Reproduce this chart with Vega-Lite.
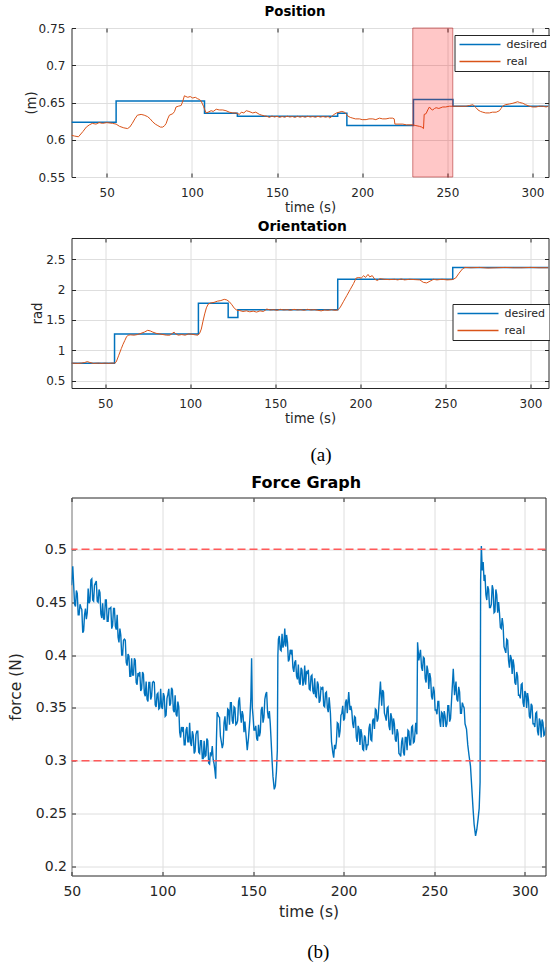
{
  "$schema": "https://vega.github.io/schema/vega-lite/v6.json",
  "background": "white",
  "padding": {"left": 7.5, "top": 4, "right": 0, "bottom": 0},
  "config": {
    "view": {"stroke": "#262626", "strokeWidth": 1},
    "font": "DejaVu Sans",
    "axis": {"domain": false, "gridColor": "#dedede", "gridWidth": 1, "tickColor": "#262626", "tickSize": -4, "labelColor": "#262626", "titleColor": "#262626", "titleFontWeight": "normal", "labelFont": "DejaVu Sans", "titleFont": "DejaVu Sans", "labelFlush": false},
    "title": {"font": "DejaVu Sans", "fontWeight": "bold", "color": "#000000", "frame": "group"},
    "legend": {"title": null, "orient": "none", "direction": "vertical", "fillColor": "white", "strokeColor": "#262626", "padding": 4, "labelFontSize": 11, "labelFont": "DejaVu Sans", "labelColor": "#262626", "symbolType": "M-5.125,0H5.125", "symbolSize": 64, "symbolStrokeWidth": 1.5, "rowPadding": 5, "labelOffset": 21, "symbolOffset": 16, "cornerRadius": 0}
  },
  "datasets": {
    "posDes": [
      {"t": 29.3, "v": 0.6235}, {"t": 55.5, "v": 0.652}, {"t": 107.4, "v": 0.6355}, {"t": 126.7, "v": 0.6315},
      {"t": 185.6, "v": 0.6355}, {"t": 191, "v": 0.619}, {"t": 230.1, "v": 0.654}, {"t": 253.3, "v": 0.645}, {"t": 309.4, "v": 0.645}
    ],
    "posReal": [
      {"t": 29.3, "v": 0.606}, {"t": 31, "v": 0.605}, {"t": 33.4, "v": 0.604}, {"t": 36, "v": 0.611}, {"t": 38, "v": 0.617}, {"t": 39.8, "v": 0.62},
      {"t": 41.5, "v": 0.622}, {"t": 43.7, "v": 0.621}, {"t": 45.5, "v": 0.623}, {"t": 47.5, "v": 0.622}, {"t": 50, "v": 0.623}, {"t": 53.4, "v": 0.622},
      {"t": 55.5, "v": 0.621}, {"t": 57.5, "v": 0.618}, {"t": 60, "v": 0.616}, {"t": 62.2, "v": 0.615}, {"t": 63.5, "v": 0.617}, {"t": 65, "v": 0.622},
      {"t": 66.5, "v": 0.628}, {"t": 68, "v": 0.633}, {"t": 70.2, "v": 0.634}, {"t": 72, "v": 0.633}, {"t": 74, "v": 0.631}, {"t": 75.5, "v": 0.628},
      {"t": 77, "v": 0.624}, {"t": 78.5, "v": 0.621}, {"t": 80, "v": 0.619}, {"t": 81.5, "v": 0.617}, {"t": 82.9, "v": 0.617}, {"t": 84, "v": 0.619},
      {"t": 84.9, "v": 0.622}, {"t": 85.8, "v": 0.628}, {"t": 86.8, "v": 0.633}, {"t": 88.8, "v": 0.635}, {"t": 89.8, "v": 0.638}, {"t": 90.7, "v": 0.644},
      {"t": 92, "v": 0.645}, {"t": 93.7, "v": 0.646}, {"t": 94.7, "v": 0.652}, {"t": 95.6, "v": 0.659}, {"t": 96.5, "v": 0.658}, {"t": 97.6, "v": 0.657},
      {"t": 99, "v": 0.658}, {"t": 100.5, "v": 0.656}, {"t": 102, "v": 0.657}, {"t": 103.4, "v": 0.655}, {"t": 104.5, "v": 0.654}, {"t": 105.4, "v": 0.652},
      {"t": 106.8, "v": 0.645}, {"t": 107.6, "v": 0.64}, {"t": 108.4, "v": 0.636}, {"t": 109.5, "v": 0.637}, {"t": 111.3, "v": 0.639}, {"t": 112.5, "v": 0.638},
      {"t": 114.3, "v": 0.641}, {"t": 116, "v": 0.64}, {"t": 118.1, "v": 0.64}, {"t": 120, "v": 0.639}, {"t": 122, "v": 0.637}, {"t": 124, "v": 0.636},
      {"t": 126, "v": 0.636}, {"t": 127.9, "v": 0.634}, {"t": 129, "v": 0.637}, {"t": 130.5, "v": 0.636}, {"t": 131.9, "v": 0.639}, {"t": 133.5, "v": 0.638},
      {"t": 135.7, "v": 0.636}, {"t": 137.5, "v": 0.637}, {"t": 139.7, "v": 0.634}, {"t": 141, "v": 0.633}, {"t": 142.6, "v": 0.632}, {"t": 144, "v": 0.6315},
      {"t": 145.5, "v": 0.63}, {"t": 147, "v": 0.6318}, {"t": 148.5, "v": 0.6305}, {"t": 150, "v": 0.6315}, {"t": 151.5, "v": 0.63}, {"t": 153, "v": 0.6312},
      {"t": 154.5, "v": 0.6302}, {"t": 156, "v": 0.6316}, {"t": 157.5, "v": 0.6305}, {"t": 159, "v": 0.6312}, {"t": 160.5, "v": 0.63}, {"t": 162, "v": 0.6315},
      {"t": 163.5, "v": 0.6303}, {"t": 165, "v": 0.6313}, {"t": 166.5, "v": 0.6302}, {"t": 168, "v": 0.6315}, {"t": 169.5, "v": 0.6305}, {"t": 171, "v": 0.6312},
      {"t": 172.5, "v": 0.6302}, {"t": 174, "v": 0.6314}, {"t": 175.5, "v": 0.6304}, {"t": 177, "v": 0.6312}, {"t": 178.5, "v": 0.6303}, {"t": 180, "v": 0.6312},
      {"t": 181, "v": 0.6292}, {"t": 182, "v": 0.631}, {"t": 183.5, "v": 0.634}, {"t": 185, "v": 0.636}, {"t": 186.5, "v": 0.637}, {"t": 188, "v": 0.638},
      {"t": 189.5, "v": 0.637}, {"t": 190.5, "v": 0.635}, {"t": 191.5, "v": 0.632}, {"t": 193, "v": 0.63}, {"t": 194.5, "v": 0.629}, {"t": 196, "v": 0.628},
      {"t": 198.4, "v": 0.628}, {"t": 200, "v": 0.627}, {"t": 202.3, "v": 0.627}, {"t": 204, "v": 0.628}, {"t": 206.2, "v": 0.628}, {"t": 208, "v": 0.627},
      {"t": 210.1, "v": 0.629}, {"t": 212, "v": 0.628}, {"t": 214, "v": 0.628}, {"t": 216, "v": 0.629}, {"t": 217.9, "v": 0.629}, {"t": 218.8, "v": 0.628},
      {"t": 219.2, "v": 0.621}, {"t": 221, "v": 0.621}, {"t": 223.8, "v": 0.621}, {"t": 226, "v": 0.62}, {"t": 229.7, "v": 0.62}, {"t": 231.5, "v": 0.619},
      {"t": 233.6, "v": 0.618}, {"t": 235, "v": 0.617}, {"t": 236, "v": 0.615}, {"t": 236.4, "v": 0.634}, {"t": 237.5, "v": 0.635}, {"t": 238.5, "v": 0.64},
      {"t": 239.5, "v": 0.644}, {"t": 240.5, "v": 0.641}, {"t": 241.4, "v": 0.64}, {"t": 242.5, "v": 0.642}, {"t": 243.4, "v": 0.643}, {"t": 245, "v": 0.642},
      {"t": 247.3, "v": 0.644}, {"t": 249, "v": 0.644}, {"t": 251.2, "v": 0.645}, {"t": 253, "v": 0.645}, {"t": 255.2, "v": 0.645}, {"t": 258, "v": 0.645},
      {"t": 261, "v": 0.645}, {"t": 263, "v": 0.646}, {"t": 265, "v": 0.647}, {"t": 266, "v": 0.645}, {"t": 266.9, "v": 0.643}, {"t": 268, "v": 0.64},
      {"t": 269.5, "v": 0.638}, {"t": 270.8, "v": 0.637}, {"t": 272.5, "v": 0.636}, {"t": 274.7, "v": 0.636}, {"t": 276.5, "v": 0.637}, {"t": 278.7, "v": 0.637},
      {"t": 280.6, "v": 0.639}, {"t": 281.5, "v": 0.642}, {"t": 282.5, "v": 0.645}, {"t": 284, "v": 0.647}, {"t": 286.5, "v": 0.648}, {"t": 288.5, "v": 0.649},
      {"t": 291.3, "v": 0.651}, {"t": 292.5, "v": 0.65}, {"t": 294.3, "v": 0.649}, {"t": 296, "v": 0.647}, {"t": 298.2, "v": 0.645}, {"t": 300, "v": 0.644},
      {"t": 302.1, "v": 0.644}, {"t": 304, "v": 0.645}, {"t": 306, "v": 0.645}, {"t": 308, "v": 0.644}, {"t": 309.4, "v": 0.645}
    ],
    "posBand": [{"start": 229.7, "end": 253.2}],
    "oriDes": [
      {"t": 30.2, "v": 0.787}, {"t": 55.5, "v": 1.27}, {"t": 104.8, "v": 1.775}, {"t": 122.3, "v": 1.54},
      {"t": 128, "v": 1.668}, {"t": 186.7, "v": 2.17}, {"t": 254.3, "v": 2.365}, {"t": 310.6, "v": 2.365}
    ],
    "oriReal": [
      {"t": 30.2, "v": 0.79}, {"t": 34, "v": 0.785}, {"t": 36, "v": 0.79}, {"t": 38, "v": 0.8}, {"t": 39.5, "v": 0.815}, {"t": 41, "v": 0.8},
      {"t": 43, "v": 0.785}, {"t": 46, "v": 0.79}, {"t": 48, "v": 0.785}, {"t": 50, "v": 0.79}, {"t": 52, "v": 0.785}, {"t": 54, "v": 0.79},
      {"t": 55.5, "v": 0.79}, {"t": 56.5, "v": 0.81}, {"t": 58, "v": 0.92}, {"t": 59.5, "v": 1.03}, {"t": 60.5, "v": 1.1}, {"t": 61.5, "v": 1.16},
      {"t": 62.5, "v": 1.22}, {"t": 63.5, "v": 1.25}, {"t": 65, "v": 1.255}, {"t": 67, "v": 1.25}, {"t": 69, "v": 1.26}, {"t": 71, "v": 1.28},
      {"t": 73, "v": 1.3}, {"t": 75, "v": 1.33}, {"t": 76.5, "v": 1.32}, {"t": 78, "v": 1.3}, {"t": 80, "v": 1.28}, {"t": 82, "v": 1.27},
      {"t": 84, "v": 1.26}, {"t": 86, "v": 1.25}, {"t": 88, "v": 1.25}, {"t": 89.5, "v": 1.28}, {"t": 90.5, "v": 1.3}, {"t": 91.5, "v": 1.27},
      {"t": 93, "v": 1.25}, {"t": 95, "v": 1.26}, {"t": 97, "v": 1.25}, {"t": 99, "v": 1.27}, {"t": 101, "v": 1.265}, {"t": 103, "v": 1.255},
      {"t": 104.5, "v": 1.25}, {"t": 105.5, "v": 1.28}, {"t": 106.5, "v": 1.35}, {"t": 107.5, "v": 1.48}, {"t": 108.5, "v": 1.6}, {"t": 109.5, "v": 1.7},
      {"t": 110.5, "v": 1.76}, {"t": 112, "v": 1.78}, {"t": 114, "v": 1.79}, {"t": 116, "v": 1.81}, {"t": 118, "v": 1.82}, {"t": 120, "v": 1.84},
      {"t": 121.5, "v": 1.83}, {"t": 123, "v": 1.8}, {"t": 124.5, "v": 1.75}, {"t": 126, "v": 1.69}, {"t": 127.5, "v": 1.66}, {"t": 129, "v": 1.655},
      {"t": 131, "v": 1.64}, {"t": 133, "v": 1.65}, {"t": 135, "v": 1.635}, {"t": 137, "v": 1.645}, {"t": 139, "v": 1.63}, {"t": 141, "v": 1.65},
      {"t": 143, "v": 1.64}, {"t": 145, "v": 1.68}, {"t": 147, "v": 1.665}, {"t": 149, "v": 1.67}, {"t": 151, "v": 1.66}, {"t": 153, "v": 1.675},
      {"t": 155, "v": 1.665}, {"t": 157, "v": 1.67}, {"t": 159, "v": 1.66}, {"t": 161, "v": 1.675}, {"t": 163, "v": 1.665}, {"t": 165, "v": 1.67},
      {"t": 167, "v": 1.66}, {"t": 169, "v": 1.675}, {"t": 171, "v": 1.665}, {"t": 173, "v": 1.67}, {"t": 175, "v": 1.66}, {"t": 177, "v": 1.65},
      {"t": 179, "v": 1.665}, {"t": 181, "v": 1.66}, {"t": 183, "v": 1.67}, {"t": 185, "v": 1.66}, {"t": 186.7, "v": 1.665}, {"t": 188, "v": 1.7},
      {"t": 190, "v": 1.8}, {"t": 192, "v": 1.9}, {"t": 194, "v": 2.0}, {"t": 196, "v": 2.1}, {"t": 197.5, "v": 2.19}, {"t": 199, "v": 2.2},
      {"t": 200.5, "v": 2.19}, {"t": 202, "v": 2.23}, {"t": 203, "v": 2.2}, {"t": 204.5, "v": 2.25}, {"t": 205.5, "v": 2.21}, {"t": 207, "v": 2.23},
      {"t": 208.5, "v": 2.17}, {"t": 210, "v": 2.15}, {"t": 211.5, "v": 2.18}, {"t": 214, "v": 2.17}, {"t": 217, "v": 2.165}, {"t": 220, "v": 2.17},
      {"t": 222, "v": 2.16}, {"t": 224, "v": 2.175}, {"t": 226, "v": 2.16}, {"t": 229, "v": 2.17}, {"t": 232, "v": 2.165}, {"t": 235, "v": 2.16},
      {"t": 237, "v": 2.12}, {"t": 239, "v": 2.11}, {"t": 241, "v": 2.14}, {"t": 243, "v": 2.17}, {"t": 245, "v": 2.16}, {"t": 248, "v": 2.17},
      {"t": 251, "v": 2.16}, {"t": 254, "v": 2.165}, {"t": 256, "v": 2.19}, {"t": 258, "v": 2.27}, {"t": 260, "v": 2.34}, {"t": 261.5, "v": 2.365},
      {"t": 265, "v": 2.36}, {"t": 270, "v": 2.365}, {"t": 275, "v": 2.355}, {"t": 280, "v": 2.36}, {"t": 285, "v": 2.365}, {"t": 290, "v": 2.36},
      {"t": 295, "v": 2.36}, {"t": 300, "v": 2.365}, {"t": 305, "v": 2.36}, {"t": 310.6, "v": 2.36}
    ],
    "thresholds": [{"f": 0.5}, {"f": 0.3}],
    "force": [
      {"t": 49.8, "f": 0.466}, {"t": 50.5, "f": 0.484}, {"t": 51, "f": 0.466}, {"t": 52, "f": 0.446}, {"t": 53, "f": 0.458}, {"t": 54, "f": 0.438},
      {"t": 55, "f": 0.445}, {"t": 56, "f": 0.421}, {"t": 57, "f": 0.438}, {"t": 58, "f": 0.434}, {"t": 59, "f": 0.463}, {"t": 60, "f": 0.451},
      {"t": 61, "f": 0.472}, {"t": 62, "f": 0.451}, {"t": 63, "f": 0.468}, {"t": 64, "f": 0.451}, {"t": 65, "f": 0.462}, {"t": 66, "f": 0.439},
      {"t": 67, "f": 0.449}, {"t": 68, "f": 0.434}, {"t": 69, "f": 0.452}, {"t": 70, "f": 0.432}, {"t": 71, "f": 0.444}, {"t": 72, "f": 0.425},
      {"t": 73, "f": 0.444}, {"t": 74, "f": 0.427}, {"t": 75, "f": 0.438}, {"t": 76, "f": 0.412}, {"t": 77, "f": 0.419}, {"t": 78, "f": 0.4},
      {"t": 79, "f": 0.415}, {"t": 80, "f": 0.393}, {"t": 81, "f": 0.401}, {"t": 82, "f": 0.38}, {"t": 83, "f": 0.397}, {"t": 84, "f": 0.381},
      {"t": 85, "f": 0.395}, {"t": 86, "f": 0.372}, {"t": 87, "f": 0.381}, {"t": 88, "f": 0.366}, {"t": 89, "f": 0.384}, {"t": 90, "f": 0.364},
      {"t": 91, "f": 0.375}, {"t": 92, "f": 0.356}, {"t": 93, "f": 0.374}, {"t": 94, "f": 0.361}, {"t": 95, "f": 0.375}, {"t": 96, "f": 0.353},
      {"t": 97, "f": 0.363}, {"t": 98, "f": 0.349}, {"t": 99, "f": 0.368}, {"t": 100, "f": 0.349}, {"t": 101, "f": 0.361}, {"t": 102, "f": 0.343},
      {"t": 103, "f": 0.363}, {"t": 104, "f": 0.352}, {"t": 105, "f": 0.369}, {"t": 106, "f": 0.348}, {"t": 107, "f": 0.362}, {"t": 108, "f": 0.342},
      {"t": 109, "f": 0.351}, {"t": 110, "f": 0.322}, {"t": 111, "f": 0.329}, {"t": 112, "f": 0.315}, {"t": 113, "f": 0.329}, {"t": 114, "f": 0.318},
      {"t": 115, "f": 0.336}, {"t": 116, "f": 0.314}, {"t": 117, "f": 0.324}, {"t": 118, "f": 0.309}, {"t": 119, "f": 0.328}, {"t": 120, "f": 0.308},
      {"t": 121, "f": 0.319}, {"t": 122, "f": 0.302}, {"t": 123, "f": 0.319}, {"t": 124, "f": 0.305}, {"t": 125, "f": 0.319}, {"t": 126, "f": 0.297},
      {"t": 127, "f": 0.306}, {"t": 128, "f": 0.301}, {"t": 129, "f": 0.29}, {"t": 129.4, "f": 0.283}, {"t": 129.8, "f": 0.32}, {"t": 130.2, "f": 0.346},
      {"t": 131, "f": 0.342}, {"t": 132, "f": 0.323}, {"t": 133, "f": 0.312}, {"t": 134, "f": 0.336}, {"t": 135, "f": 0.329}, {"t": 136, "f": 0.349},
      {"t": 137, "f": 0.334}, {"t": 138, "f": 0.355}, {"t": 139, "f": 0.335}, {"t": 140, "f": 0.35}, {"t": 141, "f": 0.335}, {"t": 142, "f": 0.356},
      {"t": 143, "f": 0.345}, {"t": 144, "f": 0.347}, {"t": 145, "f": 0.327}, {"t": 146, "f": 0.327}, {"t": 146.8, "f": 0.31}, {"t": 147.5, "f": 0.322},
      {"t": 148.2, "f": 0.338}, {"t": 148.8, "f": 0.36}, {"t": 149.2, "f": 0.397}, {"t": 149.6, "f": 0.35}, {"t": 150, "f": 0.342}, {"t": 151, "f": 0.329},
      {"t": 152, "f": 0.321}, {"t": 153, "f": 0.334}, {"t": 154, "f": 0.327}, {"t": 155, "f": 0.351}, {"t": 156, "f": 0.341}, {"t": 157, "f": 0.363},
      {"t": 158, "f": 0.346}, {"t": 159, "f": 0.347}, {"t": 159.5, "f": 0.335}, {"t": 160, "f": 0.318}, {"t": 160.5, "f": 0.3}, {"t": 161, "f": 0.285},
      {"t": 161.7, "f": 0.273}, {"t": 162.3, "f": 0.276}, {"t": 162.9, "f": 0.29}, {"t": 163.4, "f": 0.31}, {"t": 163.7, "f": 0.4}, {"t": 164, "f": 0.415},
      {"t": 165, "f": 0.405}, {"t": 166, "f": 0.42}, {"t": 167, "f": 0.41}, {"t": 167.5, "f": 0.425}, {"t": 168, "f": 0.408}, {"t": 169, "f": 0.412},
      {"t": 170, "f": 0.396}, {"t": 171, "f": 0.402}, {"t": 172, "f": 0.388}, {"t": 173, "f": 0.393}, {"t": 174, "f": 0.38}, {"t": 175, "f": 0.391},
      {"t": 176, "f": 0.372}, {"t": 177, "f": 0.386}, {"t": 178, "f": 0.375}, {"t": 178.5, "f": 0.39}, {"t": 179, "f": 0.372}, {"t": 180, "f": 0.383},
      {"t": 181, "f": 0.368}, {"t": 182, "f": 0.38}, {"t": 183, "f": 0.366}, {"t": 184, "f": 0.378}, {"t": 185, "f": 0.36}, {"t": 186, "f": 0.372},
      {"t": 187, "f": 0.357}, {"t": 188, "f": 0.368}, {"t": 189, "f": 0.352}, {"t": 190, "f": 0.364}, {"t": 191, "f": 0.35}, {"t": 192, "f": 0.36},
      {"t": 192.7, "f": 0.345}, {"t": 193.3, "f": 0.318}, {"t": 194, "f": 0.308}, {"t": 194.5, "f": 0.303}, {"t": 195, "f": 0.315}, {"t": 196, "f": 0.318},
      {"t": 197, "f": 0.335}, {"t": 198, "f": 0.328}, {"t": 199, "f": 0.345}, {"t": 200, "f": 0.338}, {"t": 201, "f": 0.355}, {"t": 202, "f": 0.345},
      {"t": 202.8, "f": 0.365}, {"t": 203.5, "f": 0.348}, {"t": 204, "f": 0.352}, {"t": 205, "f": 0.335}, {"t": 206, "f": 0.342}, {"t": 207, "f": 0.322},
      {"t": 208, "f": 0.333}, {"t": 209, "f": 0.315}, {"t": 210, "f": 0.325}, {"t": 211, "f": 0.31}, {"t": 212, "f": 0.322}, {"t": 213, "f": 0.315},
      {"t": 214, "f": 0.331}, {"t": 215, "f": 0.32}, {"t": 216, "f": 0.338}, {"t": 217, "f": 0.33}, {"t": 218, "f": 0.348}, {"t": 219, "f": 0.34},
      {"t": 219.8, "f": 0.362}, {"t": 220.3, "f": 0.375}, {"t": 221, "f": 0.352}, {"t": 222, "f": 0.365}, {"t": 223, "f": 0.342}, {"t": 224, "f": 0.35},
      {"t": 225, "f": 0.333}, {"t": 226, "f": 0.345}, {"t": 227, "f": 0.325}, {"t": 228, "f": 0.335}, {"t": 229, "f": 0.318}, {"t": 230, "f": 0.326},
      {"t": 231, "f": 0.306}, {"t": 232, "f": 0.318}, {"t": 233, "f": 0.308}, {"t": 234, "f": 0.322}, {"t": 235, "f": 0.31}, {"t": 236, "f": 0.328},
      {"t": 237, "f": 0.315}, {"t": 238, "f": 0.333}, {"t": 239, "f": 0.318}, {"t": 239.8, "f": 0.336}, {"t": 240.4, "f": 0.325}, {"t": 240.8, "f": 0.412},
      {"t": 241.5, "f": 0.395}, {"t": 242.4, "f": 0.405}, {"t": 243, "f": 0.388}, {"t": 244, "f": 0.398}, {"t": 245, "f": 0.378}, {"t": 246, "f": 0.39},
      {"t": 247, "f": 0.368}, {"t": 248, "f": 0.378}, {"t": 249, "f": 0.358}, {"t": 250, "f": 0.366}, {"t": 251, "f": 0.348}, {"t": 252, "f": 0.356},
      {"t": 253, "f": 0.338}, {"t": 254, "f": 0.346}, {"t": 255, "f": 0.332}, {"t": 256, "f": 0.342}, {"t": 257, "f": 0.335}, {"t": 258, "f": 0.352},
      {"t": 259, "f": 0.34}, {"t": 259.8, "f": 0.365}, {"t": 260.5, "f": 0.387}, {"t": 261.2, "f": 0.362}, {"t": 262, "f": 0.375}, {"t": 263, "f": 0.356},
      {"t": 264, "f": 0.365}, {"t": 265, "f": 0.345}, {"t": 266, "f": 0.352}, {"t": 267, "f": 0.335}, {"t": 267.8, "f": 0.33}, {"t": 268.5, "f": 0.315},
      {"t": 269.2, "f": 0.305}, {"t": 270, "f": 0.295}, {"t": 270.7, "f": 0.275}, {"t": 271.4, "f": 0.255}, {"t": 272, "f": 0.24}, {"t": 272.8, "f": 0.229},
      {"t": 273.5, "f": 0.235}, {"t": 274.2, "f": 0.245}, {"t": 274.8, "f": 0.255}, {"t": 275.3, "f": 0.28}, {"t": 275.6, "f": 0.47}, {"t": 276, "f": 0.503},
      {"t": 276.5, "f": 0.48}, {"t": 277, "f": 0.488}, {"t": 277.5, "f": 0.47}, {"t": 278, "f": 0.476}, {"t": 279, "f": 0.452}, {"t": 280, "f": 0.462},
      {"t": 281, "f": 0.445}, {"t": 282, "f": 0.466}, {"t": 283, "f": 0.44}, {"t": 284, "f": 0.462}, {"t": 285, "f": 0.44}, {"t": 286, "f": 0.44},
      {"t": 287, "f": 0.425}, {"t": 288, "f": 0.428}, {"t": 289, "f": 0.405}, {"t": 290, "f": 0.415}, {"t": 291, "f": 0.395}, {"t": 292, "f": 0.4},
      {"t": 293, "f": 0.382}, {"t": 294, "f": 0.39}, {"t": 295, "f": 0.372}, {"t": 296, "f": 0.38}, {"t": 297, "f": 0.362}, {"t": 298, "f": 0.372},
      {"t": 299, "f": 0.355}, {"t": 300, "f": 0.366}, {"t": 301, "f": 0.35}, {"t": 302, "f": 0.358}, {"t": 303, "f": 0.34}, {"t": 304, "f": 0.352},
      {"t": 305, "f": 0.335}, {"t": 306, "f": 0.345}, {"t": 307, "f": 0.328}, {"t": 308, "f": 0.34}, {"t": 309, "f": 0.322}, {"t": 310, "f": 0.336},
      {"t": 311, "f": 0.325}, {"t": 311.5, "f": 0.332},
      {"t": 51.5, "f": 0.448}, {"t": 52.5, "f": 0.461}, {"t": 53.5, "f": 0.438}, {"t": 54.5, "f": 0.448}, {"t": 55.5, "f": 0.443}, {"t": 56.5, "f": 0.423},
      {"t": 57.5, "f": 0.444}, {"t": 58.5, "f": 0.44}, {"t": 59.5, "f": 0.449}, {"t": 60.5, "f": 0.471}, {"t": 61.5, "f": 0.452}, {"t": 62.5, "f": 0.466},
      {"t": 63.5, "f": 0.47}, {"t": 64.5, "f": 0.45}, {"t": 65.5, "f": 0.459}, {"t": 66.5, "f": 0.435}, {"t": 67.5, "f": 0.434}, {"t": 68.5, "f": 0.452},
      {"t": 69.5, "f": 0.432}, {"t": 70.5, "f": 0.444}, {"t": 71.5, "f": 0.445}, {"t": 72.5, "f": 0.428}, {"t": 73.5, "f": 0.444}, {"t": 74.5, "f": 0.424},
      {"t": 75.5, "f": 0.417}, {"t": 76.5, "f": 0.425}, {"t": 77.5, "f": 0.4}, {"t": 78.5, "f": 0.414}, {"t": 79.5, "f": 0.414}, {"t": 80.5, "f": 0.39},
      {"t": 81.5, "f": 0.399}, {"t": 82.5, "f": 0.38}, {"t": 83.5, "f": 0.381}, {"t": 84.5, "f": 0.397}, {"t": 85.5, "f": 0.374}, {"t": 86.5, "f": 0.383},
      {"t": 87.5, "f": 0.384}, {"t": 88.5, "f": 0.368}, {"t": 89.5, "f": 0.382}, {"t": 90.5, "f": 0.361}, {"t": 91.5, "f": 0.358}, {"t": 92.5, "f": 0.374},
      {"t": 93.5, "f": 0.358}, {"t": 94.5, "f": 0.374}, {"t": 95.5, "f": 0.374}, {"t": 96.5, "f": 0.351}, {"t": 97.5, "f": 0.364}, {"t": 98.5, "f": 0.35},
      {"t": 99.5, "f": 0.351}, {"t": 100.5, "f": 0.364}, {"t": 101.5, "f": 0.342}, {"t": 102.5, "f": 0.359}, {"t": 103.5, "f": 0.368}, {"t": 104.5, "f": 0.354},
      {"t": 105.5, "f": 0.367}, {"t": 106.5, "f": 0.346}, {"t": 107.5, "f": 0.344}, {"t": 108.5, "f": 0.356}, {"t": 109.5, "f": 0.327}, {"t": 110.5, "f": 0.332},
      {"t": 111.5, "f": 0.332}, {"t": 112.5, "f": 0.315}, {"t": 113.5, "f": 0.332}, {"t": 114.5, "f": 0.318}, {"t": 115.5, "f": 0.317}, {"t": 116.5, "f": 0.328},
      {"t": 117.5, "f": 0.307}, {"t": 118.5, "f": 0.325}, {"t": 119.5, "f": 0.328}, {"t": 120.5, "f": 0.307}, {"t": 121.5, "f": 0.319}, {"t": 122.5, "f": 0.302},
      {"t": 123.5, "f": 0.304}, {"t": 124.5, "f": 0.321}, {"t": 125.5, "f": 0.298}, {"t": 126.5, "f": 0.308}, {"t": 127.5, "f": 0.314}, {"t": 128.5, "f": 0.297},
      {"t": 131.5, "f": 0.341}, {"t": 132.5, "f": 0.318}, {"t": 133.5, "f": 0.316}, {"t": 134.5, "f": 0.342}, {"t": 135.5, "f": 0.329}, {"t": 136.5, "f": 0.348},
      {"t": 137.5, "f": 0.355}, {"t": 138.5, "f": 0.338}, {"t": 139.5, "f": 0.351}, {"t": 140.5, "f": 0.334}, {"t": 141.5, "f": 0.338}, {"t": 142.5, "f": 0.36},
      {"t": 143.5, "f": 0.336}, {"t": 144.5, "f": 0.343}, {"t": 145.5, "f": 0.337}, {"t": 150.5, "f": 0.329}, {"t": 151.5, "f": 0.333}, {"t": 152.5, "f": 0.319},
      {"t": 153.5, "f": 0.323}, {"t": 154.5, "f": 0.348}, {"t": 155.5, "f": 0.336}, {"t": 156.5, "f": 0.358}, {"t": 157.5, "f": 0.365}, {"t": 158.5, "f": 0.34},
      {"t": 164.5, "f": 0.418}, {"t": 165.5, "f": 0.404}, {"t": 166.5, "f": 0.407}, {"t": 168.5, "f": 0.419}, {"t": 169.5, "f": 0.394}, {"t": 170.5, "f": 0.405},
      {"t": 171.5, "f": 0.405}, {"t": 172.5, "f": 0.384}, {"t": 173.5, "f": 0.395}, {"t": 174.5, "f": 0.377}, {"t": 175.5, "f": 0.374}, {"t": 176.5, "f": 0.388},
      {"t": 177.5, "f": 0.371}, {"t": 179.5, "f": 0.384}, {"t": 180.5, "f": 0.386}, {"t": 181.5, "f": 0.367}, {"t": 182.5, "f": 0.381}, {"t": 183.5, "f": 0.363},
      {"t": 184.5, "f": 0.361}, {"t": 185.5, "f": 0.375}, {"t": 186.5, "f": 0.355}, {"t": 187.5, "f": 0.369}, {"t": 188.5, "f": 0.37}, {"t": 189.5, "f": 0.351},
      {"t": 190.5, "f": 0.365}, {"t": 191.5, "f": 0.346}, {"t": 195.5, "f": 0.311}, {"t": 196.5, "f": 0.336}, {"t": 197.5, "f": 0.322}, {"t": 198.5, "f": 0.343},
      {"t": 199.5, "f": 0.352}, {"t": 200.5, "f": 0.34}, {"t": 201.5, "f": 0.358}, {"t": 204.5, "f": 0.347}, {"t": 205.5, "f": 0.331}, {"t": 206.5, "f": 0.341},
      {"t": 207.5, "f": 0.318}, {"t": 208.5, "f": 0.33}, {"t": 209.5, "f": 0.33}, {"t": 210.5, "f": 0.311}, {"t": 211.5, "f": 0.324}, {"t": 212.5, "f": 0.31},
      {"t": 213.5, "f": 0.315}, {"t": 214.5, "f": 0.335}, {"t": 215.5, "f": 0.319}, {"t": 216.5, "f": 0.34}, {"t": 217.5, "f": 0.349}, {"t": 218.5, "f": 0.337},
      {"t": 221.5, "f": 0.367}, {"t": 222.5, "f": 0.345}, {"t": 223.5, "f": 0.338}, {"t": 224.5, "f": 0.351}, {"t": 225.5, "f": 0.329}, {"t": 226.5, "f": 0.341},
      {"t": 227.5, "f": 0.34}, {"t": 228.5, "f": 0.32}, {"t": 229.5, "f": 0.33}, {"t": 230.5, "f": 0.307}, {"t": 231.5, "f": 0.304}, {"t": 232.5, "f": 0.322},
      {"t": 233.5, "f": 0.305}, {"t": 234.5, "f": 0.322}, {"t": 235.5, "f": 0.329}, {"t": 236.5, "f": 0.315}, {"t": 237.5, "f": 0.332}, {"t": 238.5, "f": 0.317},
      {"t": 243.5, "f": 0.385}, {"t": 244.5, "f": 0.397}, {"t": 245.5, "f": 0.374}, {"t": 246.5, "f": 0.385}, {"t": 247.5, "f": 0.383}, {"t": 248.5, "f": 0.361},
      {"t": 249.5, "f": 0.37}, {"t": 250.5, "f": 0.348}, {"t": 251.5, "f": 0.344}, {"t": 252.5, "f": 0.356}, {"t": 253.5, "f": 0.332}, {"t": 254.5, "f": 0.345},
      {"t": 255.5, "f": 0.347}, {"t": 256.5, "f": 0.332}, {"t": 257.5, "f": 0.352}, {"t": 258.5, "f": 0.337}, {"t": 262.5, "f": 0.358}, {"t": 263.5, "f": 0.37},
      {"t": 264.5, "f": 0.345}, {"t": 265.5, "f": 0.355}, {"t": 266.5, "f": 0.35}, {"t": 278.5, "f": 0.457}, {"t": 279.5, "f": 0.465}, {"t": 280.5, "f": 0.445},
      {"t": 281.5, "f": 0.448}, {"t": 282.5, "f": 0.462}, {"t": 283.5, "f": 0.441}, {"t": 284.5, "f": 0.457}, {"t": 285.5, "f": 0.45}, {"t": 286.5, "f": 0.426},
      {"t": 287.5, "f": 0.435}, {"t": 288.5, "f": 0.408}, {"t": 289.5, "f": 0.402}, {"t": 290.5, "f": 0.414}, {"t": 291.5, "f": 0.388}, {"t": 292.5, "f": 0.397},
      {"t": 293.5, "f": 0.396}, {"t": 294.5, "f": 0.374}, {"t": 295.5, "f": 0.384}, {"t": 296.5, "f": 0.362}, {"t": 297.5, "f": 0.359}, {"t": 298.5, "f": 0.373},
      {"t": 299.5, "f": 0.351}, {"t": 300.5, "f": 0.364}, {"t": 301.5, "f": 0.364}, {"t": 302.5, "f": 0.342}, {"t": 303.5, "f": 0.354}, {"t": 304.5, "f": 0.335},
      {"t": 305.5, "f": 0.332}, {"t": 306.5, "f": 0.346}, {"t": 307.5, "f": 0.324}, {"t": 308.5, "f": 0.337}, {"t": 309.5, "f": 0.339}, {"t": 310.5, "f": 0.324}
    ]
  },
  "spacing": 9.5,
  "vconcat": [
    {
      "title": {"text": "(a)", "orient": "bottom", "anchor": "middle", "frame": "bounds", "font": "Liberation Serif", "fontSize": 19, "fontWeight": "normal", "color": "#000000", "offset": 21, "dx": 33},
      "spacing": 5,
      "resolve": {"scale": {"color": "independent"}, "legend": {"color": "independent"}},
      "vconcat": [
        {
          "width": 477, "height": 149,
          "title": {"text": "Position", "fontSize": 13.3, "offset": 4, "dx": -15},
          "layer": [
            {
              "data": {"name": "posDes"},
              "mark": {"type": "line", "interpolate": "step-after", "strokeWidth": 1.5, "clip": true},
              "encoding": {
                "x": {"field": "t", "type": "quantitative", "scale": {"domain": [29.3, 309.4], "nice": false, "zero": false},
                      "axis": {"orient": "bottom", "title": "time (s)", "values": [50, 100, 150, 200, 250, 300], "labelFontSize": 12, "titleFontSize": 13.2, "labelPadding": 14, "titlePadding": 3, "grid": true}},
                "y": {"field": "v", "type": "quantitative", "scale": {"domain": [0.55, 0.75], "nice": false, "zero": false},
                      "axis": {"orient": "left", "title": "(m)", "values": [0.55, 0.6, 0.65, 0.7, 0.75], "format": "~g", "labelFontSize": 12, "titleFontSize": 13.2, "labelPadding": 10.7, "titlePadding": 0, "grid": true}},
                "color": {"datum": "desired", "scale": {"domain": ["desired", "real"], "range": ["#0072BD", "#D95319"]},
                          "legend": {"legendX": 383, "legendY": 7}}
              }
            },
            {
              "data": {"name": "posReal"},
              "mark": {"type": "line", "strokeWidth": 1, "clip": true},
              "encoding": {
                "x": {"field": "t", "type": "quantitative", "axis": null},
                "y": {"field": "v", "type": "quantitative", "axis": null},
                "color": {"datum": "real"}
              }
            },
            {
              "data": {"name": "posBand"},
              "mark": {"type": "rect", "fill": "#ff0000", "fillOpacity": 0.22, "stroke": "#b03030", "strokeOpacity": 0.6, "strokeWidth": 1},
              "encoding": {
                "x": {"field": "start", "type": "quantitative", "axis": null},
                "x2": {"field": "end"}
              }
            },
            {
              "data": {"name": "posDes"},
              "mark": {"type": "point", "opacity": 0},
              "encoding": {
                "x": {"field": "t", "type": "quantitative", "axis": {"orient": "top", "labels": false, "title": null, "grid": false, "values": [50, 100, 150, 200, 250, 300]}},
                "y": {"field": "v", "type": "quantitative", "axis": {"orient": "right", "labels": false, "title": null, "grid": false, "values": [0.55, 0.6, 0.65, 0.7, 0.75]}}
              }
            }
          ]
        },
        {
          "width": 477, "height": 150,
          "title": {"text": "Orientation", "fontSize": 13.8, "offset": 4, "dx": -7.7},
          "layer": [
            {
              "data": {"name": "oriDes"},
              "mark": {"type": "line", "interpolate": "step-after", "strokeWidth": 1.5, "clip": true},
              "encoding": {
                "x": {"field": "t", "type": "quantitative", "scale": {"domain": [30.2, 310.6], "nice": false, "zero": false},
                      "axis": {"orient": "bottom", "title": "time (s)", "values": [50, 100, 150, 200, 250, 300], "labelFontSize": 12, "titleFontSize": 13.2, "labelPadding": 14, "titlePadding": 3, "grid": true}},
                "y": {"field": "v", "type": "quantitative", "scale": {"domain": [0.38, 2.85], "nice": false, "zero": false},
                      "axis": {"orient": "left", "title": "rad", "values": [0.5, 1, 1.5, 2, 2.5], "format": "~g", "labelFontSize": 12, "titleFontSize": 13.2, "labelPadding": 10.7, "titlePadding": 1, "grid": true}},
                "color": {"datum": "desired", "scale": {"domain": ["desired", "real"], "range": ["#0072BD", "#D95319"]},
                          "legend": {"legendX": 381, "legendY": 66}}
              }
            },
            {
              "data": {"name": "oriReal"},
              "mark": {"type": "line", "strokeWidth": 1, "clip": true},
              "encoding": {
                "x": {"field": "t", "type": "quantitative", "axis": null},
                "y": {"field": "v", "type": "quantitative", "axis": null},
                "color": {"datum": "real"}
              }
            },
            {
              "data": {"name": "oriDes"},
              "mark": {"type": "point", "opacity": 0},
              "encoding": {
                "x": {"field": "t", "type": "quantitative", "axis": {"orient": "top", "labels": false, "title": null, "grid": false, "values": [50, 100, 150, 200, 250, 300]}},
                "y": {"field": "v", "type": "quantitative", "axis": {"orient": "right", "labels": false, "title": null, "grid": false, "values": [0.5, 1, 1.5, 2, 2.5]}}
              }
            }
          ]
        }
      ]
    },
    {
      "title": {"text": "(b)", "orient": "bottom", "anchor": "middle", "frame": "bounds", "font": "Liberation Serif", "fontSize": 19, "fontWeight": "normal", "color": "#000000", "offset": 22.6, "dx": 40},
      "vconcat": [
        {
          "width": 474, "height": 378,
          "title": {"text": "Force Graph", "fontSize": 16, "offset": 6, "dx": -2.3},
          "layer": [
            {
              "data": {"name": "force"},
              "mark": {"type": "line", "color": "#0072BD", "strokeWidth": 1.4, "clip": true},
              "encoding": {
                "x": {"field": "t", "type": "quantitative", "scale": {"domain": [49.8, 311.4], "nice": false, "zero": false},
                      "axis": {"orient": "bottom", "title": "time (s)", "values": [50, 100, 150, 200, 250, 300], "labelFontSize": 14, "titleFontSize": 15.5, "labelPadding": 13.4, "titlePadding": 5.3, "grid": true}},
                "y": {"field": "f", "type": "quantitative", "scale": {"domain": [0.1915, 0.549], "nice": false, "zero": false},
                      "axis": {"orient": "left", "title": "force (N)", "values": [0.2, 0.25, 0.3, 0.35, 0.4, 0.45, 0.5], "format": "~g", "labelFontSize": 14, "titleFontSize": 15.5, "labelPadding": 9, "titlePadding": 12, "grid": true}}
              }
            },
            {
              "data": {"name": "thresholds"},
              "mark": {"type": "rule", "color": "#ff5a5a", "strokeWidth": 1.5, "strokeDash": [8, 4]},
              "encoding": {
                "y": {"field": "f", "type": "quantitative", "axis": null}
              }
            },
            {
              "data": {"name": "force"},
              "mark": {"type": "point", "opacity": 0},
              "encoding": {
                "x": {"field": "t", "type": "quantitative", "axis": {"orient": "top", "labels": false, "title": null, "grid": false, "values": [50, 100, 150, 200, 250, 300]}},
                "y": {"field": "f", "type": "quantitative", "axis": {"orient": "right", "labels": false, "title": null, "grid": false, "values": [0.2, 0.25, 0.3, 0.35, 0.4, 0.45, 0.5]}}
              }
            }
          ]
        }
      ]
    }
  ]
}
